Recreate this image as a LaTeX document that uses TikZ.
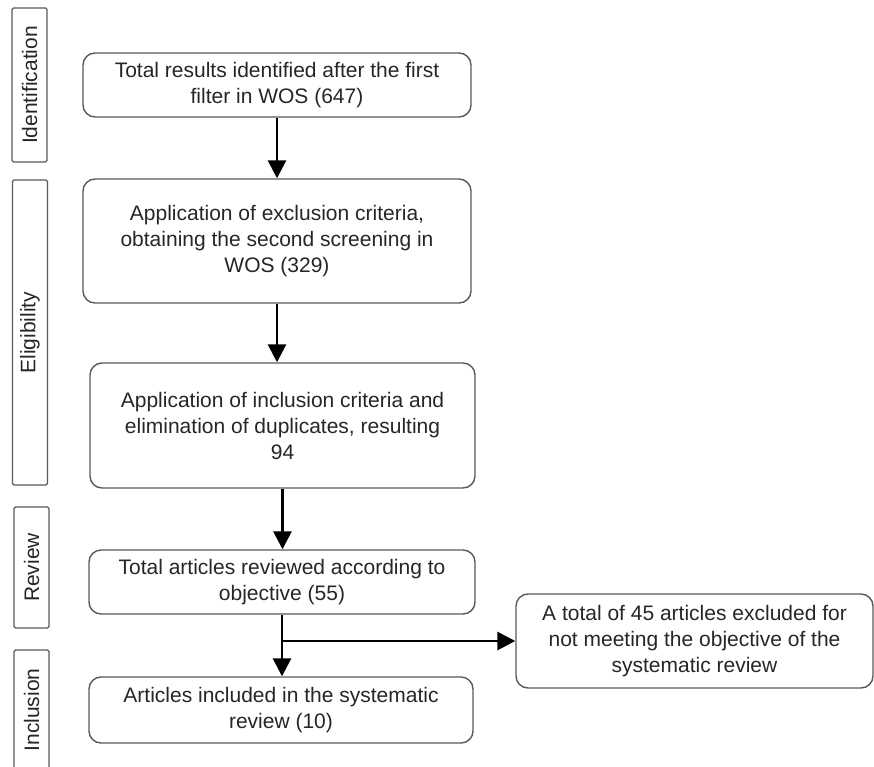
\documentclass[tikz,border=0pt]{standalone}
\usepackage{fontspec}
\setmainfont{Liberation Sans}
\usetikzlibrary{arrows.meta,positioning}

\begin{document}
\begin{tikzpicture}[x=1pt,y=-1pt,
every node/.style={draw=black!65,line width=1.4pt,text=black!85,align=center,
  font=\fontsize{21}{26}\selectfont},
box/.style={rounded corners=12pt,inner sep=0pt},
phase/.style={rotate=90,rounded corners=1.5pt,minimum height=35pt,inner sep=0pt},
arr/.style={line width=2.8pt,-{Triangle[length=18pt,width=18pt]}}]
\useasboundingbox (0,0) rectangle (874,767);
% phases
\node[phase,minimum width=154pt] (P1) at (29.5,85) {Identification};
\node[phase,minimum width=305pt] (P2) at (30,332.5) {Eligibility};
\node[phase,minimum width=121pt] (P3) at (31.5,567.5) {Review};
\node[phase,minimum width=120pt] (P4) at (31.5,710) {Inclusion};
% steps
\node[box,minimum width=388pt,minimum height=64pt] (S1) at (277,85)
  {Total results identified after the first\\filter in WOS (647)};
\node[box,minimum width=388pt,minimum height=124pt] (S2) at (277,241)
  {Application of exclusion criteria,\\obtaining the second screening in\\WOS (329)};
\node[box,minimum width=385pt,minimum height=125pt] (S3) at (282.5,425.5)
  {Application of inclusion criteria and\\elimination of duplicates, resulting\\94};
\node[box,minimum width=386pt,minimum height=64pt] (S4) at (282,582)
  {Total articles reviewed according to\\objective (55)};
\node[box,minimum width=384pt,minimum height=66pt] (S5) at (281,710)
  {Articles included in the systematic\\review (10)};
\node[box,minimum width=357pt,minimum height=94pt] (S6) at (694.5,641)
  {A total of 45 articles excluded for\\not meeting the objective of the\\systematic review};
\draw[arr] (S1.south) -- (S1.south |- S2.north);
\draw[arr] (S2.south) -- (S2.south |- S3.north);
\draw[arr] (S3.south) -- (S3.south |- S4.north);
\draw[arr] (S4.south) -- (S4.south |- S5.north);
\draw[arr] (S4.south |- S6.west) -- (S6.west);
\end{tikzpicture}
\end{document}
